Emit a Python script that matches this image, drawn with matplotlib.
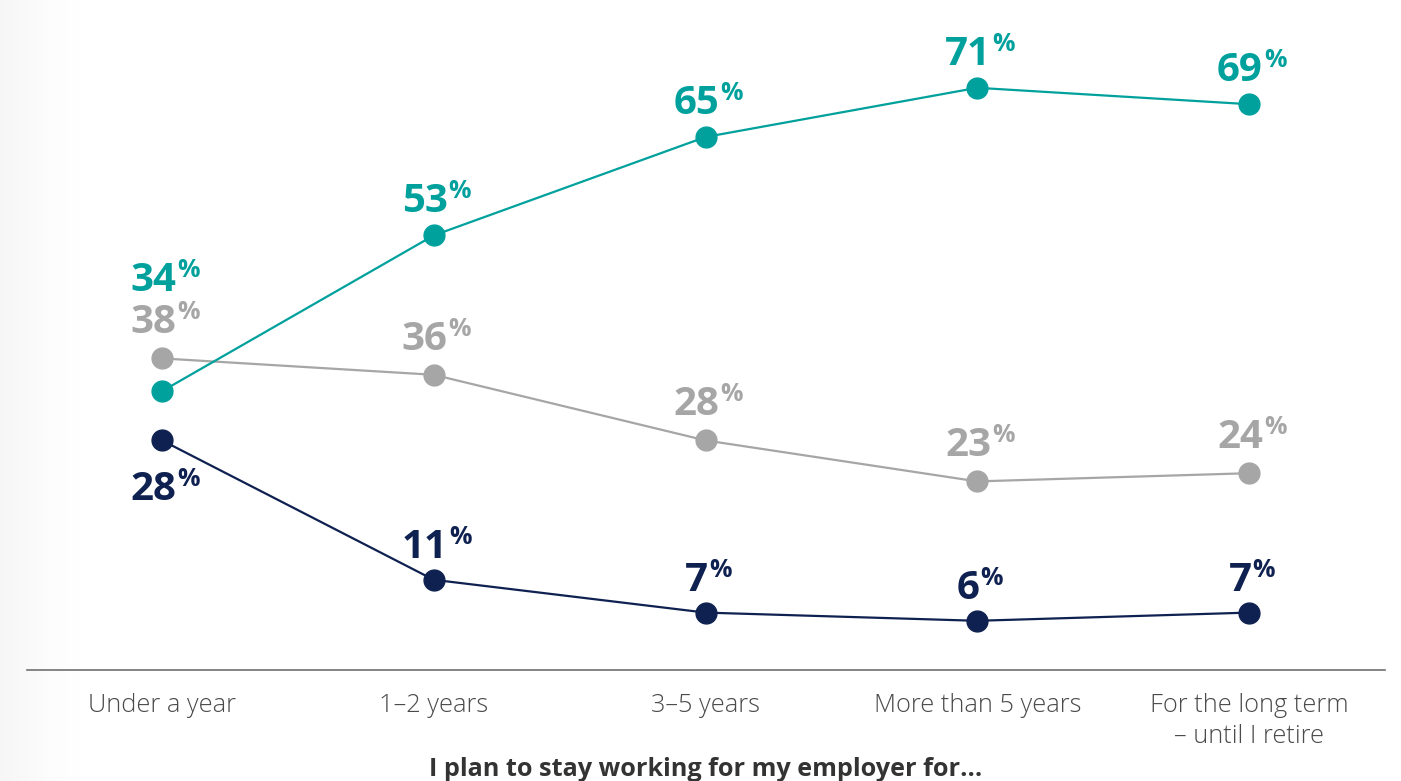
import numpy as np
import matplotlib
matplotlib.use("Agg")
import matplotlib.pyplot as plt

plt.rcParams['font.family'] = ['Open Sans', 'DejaVu Sans']

categories = ["Under a year", "1\u20132 years", "3\u20135 years", "More than 5 years",
              "For the long term\n\u2013 until I retire"]
teal_vals = [34, 53, 65, 71, 69]
gray_vals = [38, 36, 28, 23, 24]
navy_vals = [28, 11, 7, 6, 7]
xlabel = "I plan to stay working for my employer for..."

TEAL = '#00A19D'
GRAY = '#A6A6A6'
NAVY = '#0F2150'

W, H = 1401, 781
fig = plt.figure(figsize=(W / 100, H / 100), dpi=100)

# faint grey shade along the left edge
bg = fig.add_axes([0, 0, 1, 1], zorder=0)
grad = np.clip(np.linspace(0, 1, W) / 0.08, 0, 1)
grad = 0.962 + 0.038 * np.sin(grad * np.pi / 2)
bg.imshow(np.tile(grad, (2, 1)), cmap='gray', vmin=0, vmax=1, aspect='auto',
          extent=[0, 1, 0, 1])
bg.axis('off')

ax = fig.add_axes([27 / W, (H - 670) / H, 1358 / W, 670 / H], zorder=1)
ax.patch.set_alpha(0)
x = np.arange(len(categories))
ax.set_xlim(-(162 - 27) / 271.75, 4 + (1385 - 1249) / 271.75)
ax.set_ylim(0, 670 / 8.2)

series = [(gray_vals, GRAY), (teal_vals, TEAL), (navy_vals, NAVY)]
for vals, col in series:
    ax.plot(x, vals, color=col, lw=1.6, marker='o', ms=15, zorder=3)

# dy = pixels from the point to the number baseline
def label(xi, v, col, dy):
    t = ax.annotate(str(v), (xi, v), xytext=(-9, dy), textcoords='offset pixels',
                    ha='center', va='baseline', fontsize=29, fontweight='bold',
                    color=col, zorder=4)
    ax.annotate('%', (1, 1), xycoords=t, xytext=(1, 3), textcoords='offset pixels',
                ha='left', va='top', fontsize=18, fontweight='bold', color=col,
                zorder=4)

for i, v in enumerate(teal_vals):
    label(i, v, TEAL, 100 if i == 0 else 23)
for i, v in enumerate(gray_vals):
    label(i, v, GRAY, 25)
for i, v in enumerate(navy_vals):
    label(i, v, NAVY, -60 if i == 0 else 22)

for s in ['top', 'left', 'right']:
    ax.spines[s].set_visible(False)
ax.spines['bottom'].set_color('#707070')
ax.spines['bottom'].set_linewidth(1.2)
ax.set_yticks([])
ax.set_xticks(x)
ax.set_xticklabels(categories, fontsize=18.3, fontweight='light', color='#4a4a4a',
                   linespacing=1.33)
ax.tick_params(axis='x', length=0, pad=16.5)

fig.text(706 / W, 1 - 776 / H, xlabel, ha='center', va='baseline', fontsize=18.2,
         fontweight='bold', color='#333333')

fig.savefig('out.png', dpi=100)
